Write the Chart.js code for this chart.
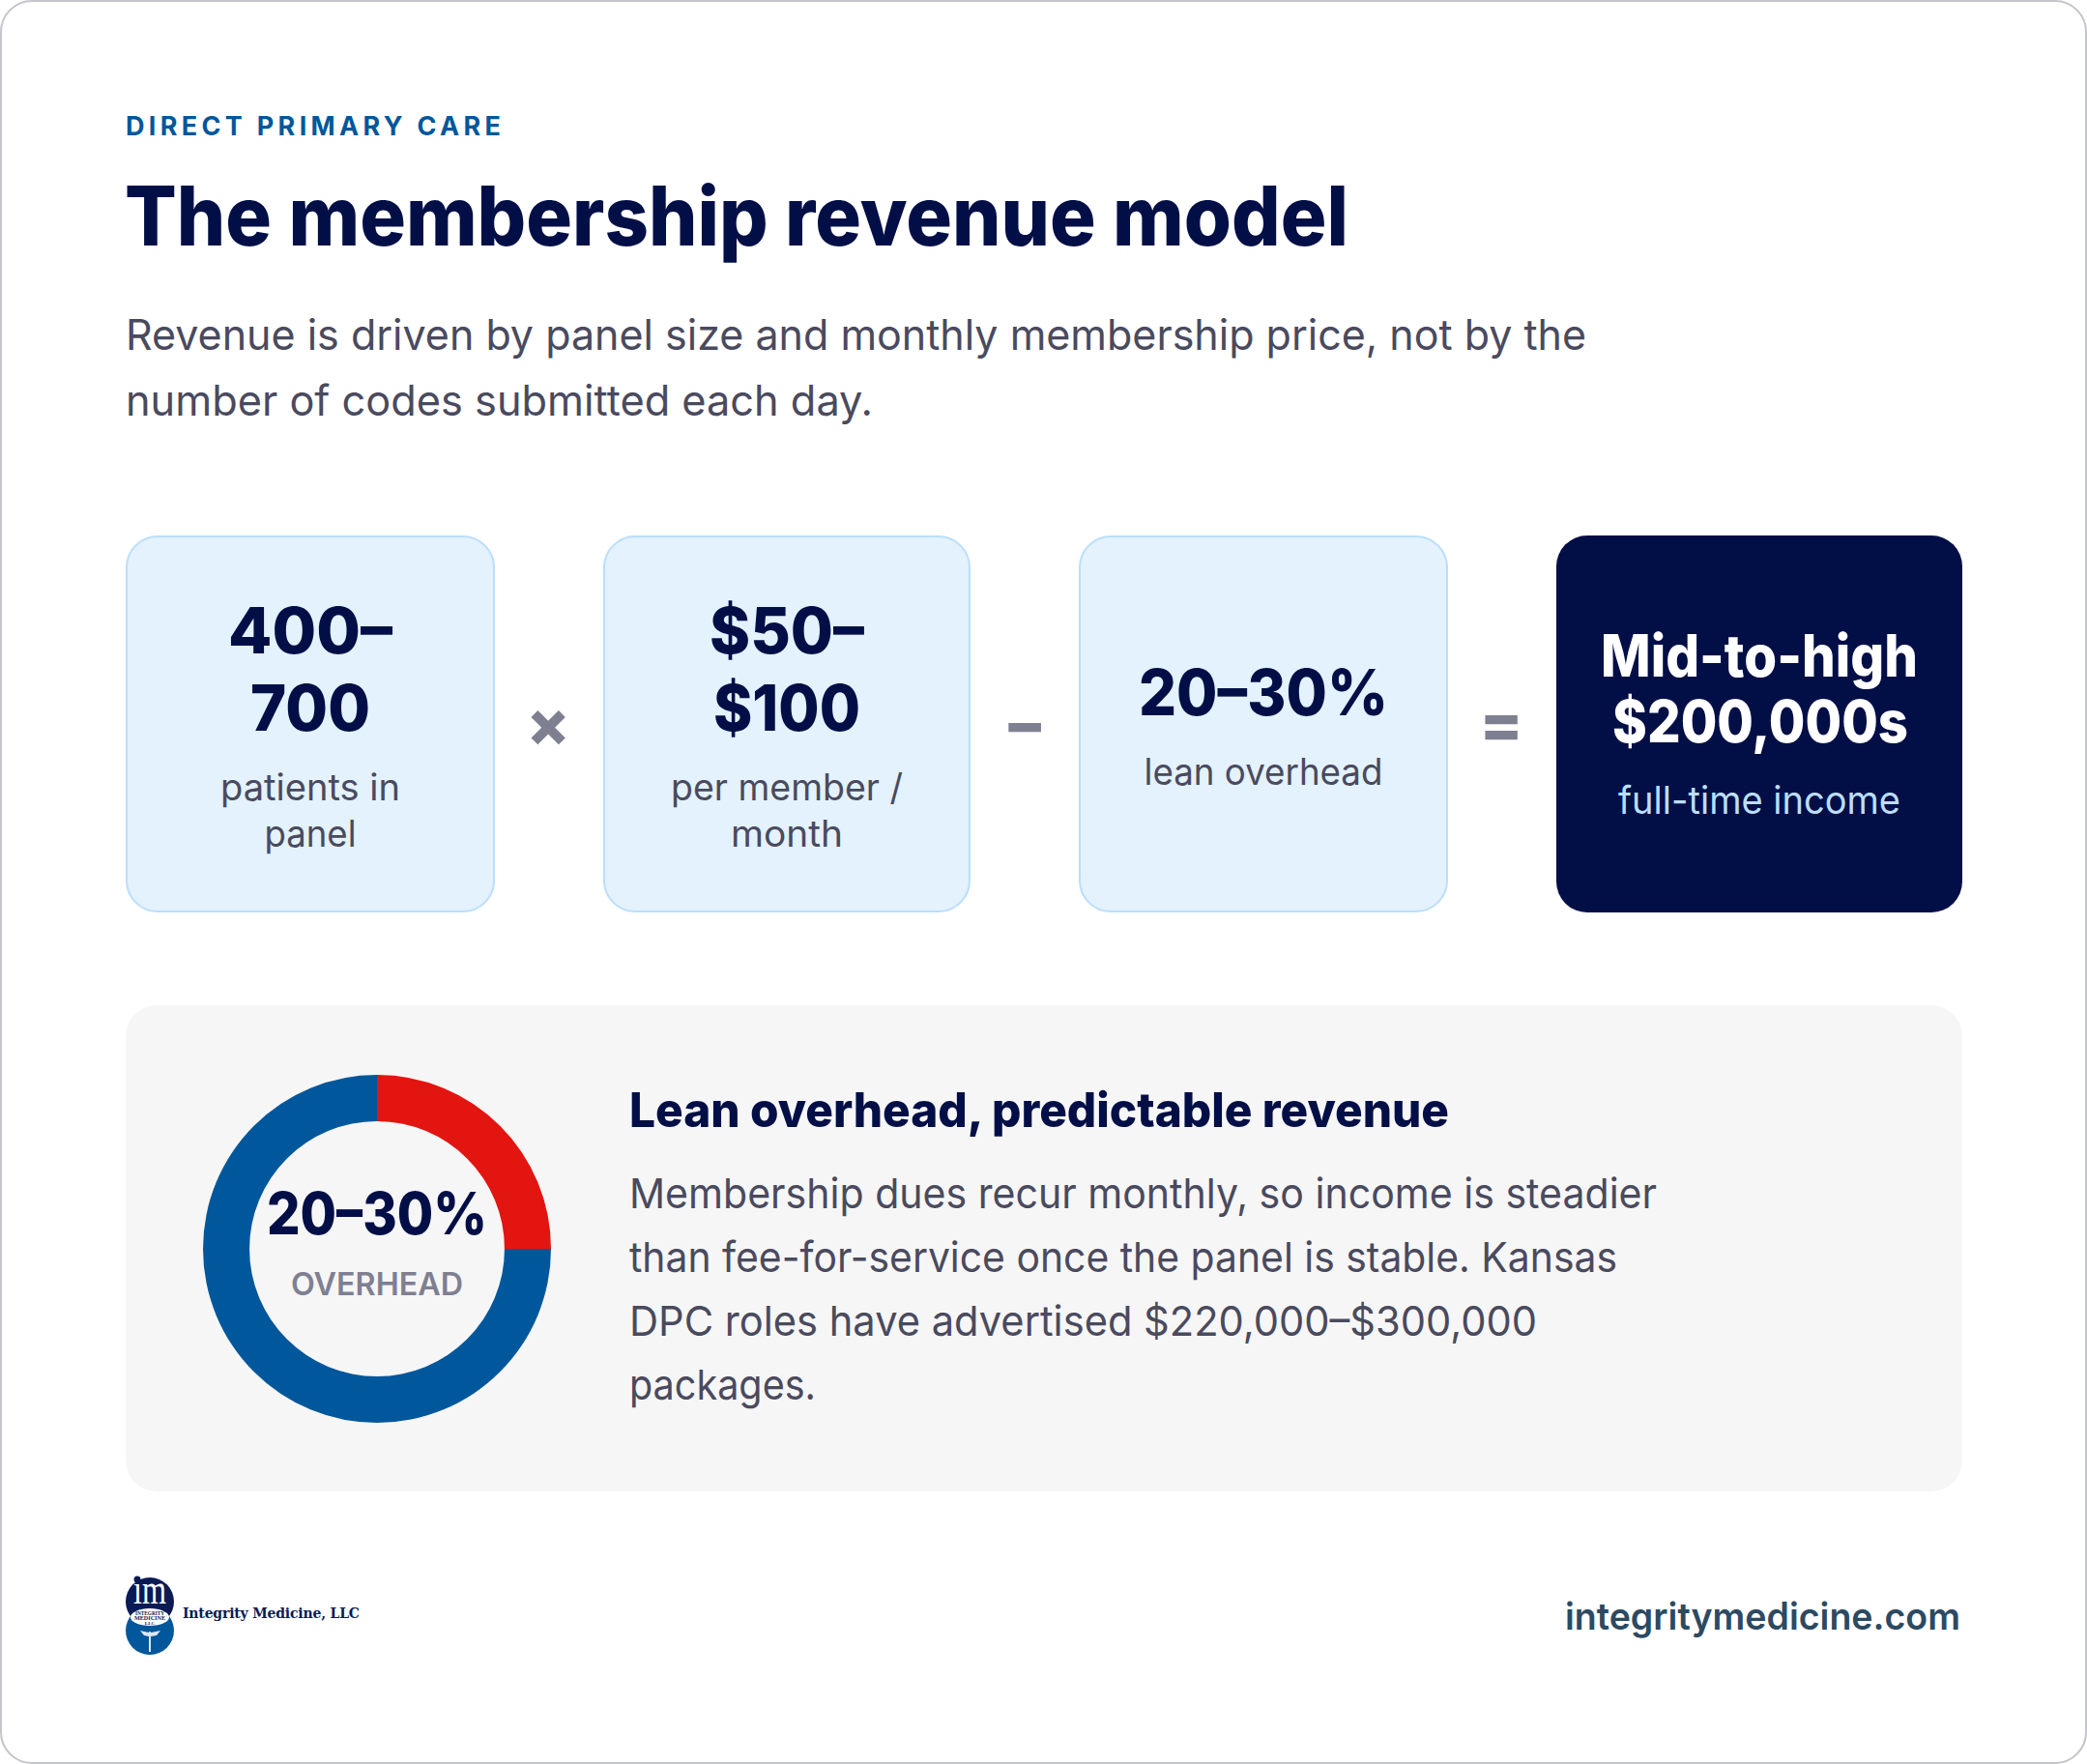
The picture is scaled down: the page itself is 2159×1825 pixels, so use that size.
<!DOCTYPE html>
<html>
<head>
<meta charset="utf-8">
<title>The membership revenue model</title>
<script src="https://cdn.jsdelivr.net/npm/chart.js@4"></script>
<style>
  html, body { margin: 0; padding: 0; background: #fff; overflow: hidden; }
  #page { position: relative; width: 2159px; height: 1825px; }
  #art { position: absolute; left: 0; top: 0; }
  #art text { font-family: Inter, sans-serif; }
  #art .logo text { font-family: "DejaVu Serif", serif; }
  #art .logo .mark { font-family: "Liberation Serif", serif; }
  #donut { position: absolute; left: 210px; top: 1112px; width: 360px; height: 360px; }
</style>
</head>
<body>
<div id="page">
  <svg id="art" width="2159" height="1825" xmlns="http://www.w3.org/2000/svg">
    <rect x="1" y="1" width="2157" height="1823" rx="32" fill="#fff" stroke="#c4c4cc" stroke-width="2"/>
    <rect x="131" y="555" width="380" height="388" rx="32" fill="#E3F2FD" stroke="#BBDEFB" stroke-width="2"/>
    <rect x="625" y="555" width="378" height="388" rx="32" fill="#E3F2FD" stroke="#BBDEFB" stroke-width="2"/>
    <rect x="1117" y="555" width="380" height="388" rx="32" fill="#E3F2FD" stroke="#BBDEFB" stroke-width="2"/>
    <rect x="1610" y="554" width="420" height="390" rx="32" fill="#020F47"/>
    <rect x="130" y="1040" width="1900" height="503" rx="32" fill="#F6F6F6"/>
    <g class="logo">
      <circle cx="155" cy="1687" r="25" fill="#01579B"/>
      <circle cx="155" cy="1657" r="25" fill="#0A1A55"/>
      <ellipse cx="155" cy="1673" rx="20" ry="9" fill="#fff"/>
      <text class="mark" x="155" y="1659" font-size="44" fill="#fff" text-anchor="middle" textLength="34" lengthAdjust="spacingAndGlyphs">im</text>
      <circle cx="142" cy="1634" r="3.5" fill="#0A1A55"/>
      <text class="mark" x="155" y="1671" font-size="7" font-weight="700" fill="#0A1A55" text-anchor="middle" textLength="30" lengthAdjust="spacingAndGlyphs">INTEGRITY</text>
      <text class="mark" x="155" y="1676" font-size="7" font-weight="700" fill="#0A1A55" text-anchor="middle" textLength="32" lengthAdjust="spacingAndGlyphs">MEDICINE</text>
      <text class="mark" x="155" y="1681" font-size="5" font-weight="700" fill="#0A1A55" text-anchor="middle">LLC</text>
      <path d="M145 1687 L154 1689 V1693 L149 1692 Z M166 1687 L156 1689 V1693 L162 1692 Z" fill="#dbe7f3"/>
      <path d="M155 1688 V1709" fill="none" stroke="#dbe7f3" stroke-width="2"/>
      <text x="189" y="1674" font-size="14" font-weight="700" fill="#0A1A55" textLength="183" lengthAdjust="spacing">Integrity Medicine, LLC</text>
    </g>
    <g id="labels"></g>
  </svg>
  <div id="donut"><canvas id="overheadChart"></canvas></div>
</div>
<script>
const sliceLabels = ['Overhead', 'Rest of revenue'];
const sliceValues = [25, 75];
const sliceColors = ['#E31511', '#01579B'];

const navy = '#020F47', slate = '#4A4A5E', grey = '#7F7F92', pale = '#BBDEFB';

// text, x, baseline, size, weight, colour, anchor, width
const labels = [
  ['The membership revenue model', 129, 254, 85, 800, navy, 'start', 1266],
  ['Revenue is driven by panel size and monthly membership price, not by the', 130, 362, 44, 400, slate, 'start', 1511],
  ['number of codes submitted each day.', 130, 430, 44, 400, slate, 'start', 773],

  ['400–', 321, 676, 66, 800, navy, 'middle', 170],
  ['700', 321, 756, 66, 800, navy, 'middle', 124],
  ['patients in', 321, 828, 38, 400, slate, 'middle', 186],
  ['panel', 321, 876, 38, 400, slate, 'middle', 95],
  ['×', 567, 772, 66, 800, grey, 'middle'],

  ['$50–', 814, 676, 66, 800, navy, 'middle', 160],
  ['$100', 814, 756, 66, 800, navy, 'middle', 152],
  ['per member /', 814, 828, 38, 400, slate, 'middle', 240],
  ['month', 814, 876, 38, 400, slate, 'middle', 116],
  ['−', 1060, 772, 66, 800, grey, 'middle'],

  ['20–30%', 1307, 740, 66, 800, navy, 'middle', 258],
  ['lean overhead', 1307, 812, 38, 400, slate, 'middle', 247],
  ['=', 1553, 772, 66, 800, grey, 'middle'],

  ['Mid-to-high', 1820, 700, 60, 800, '#fff', 'middle', 328],
  ['$200,000s', 1821, 768, 60, 800, '#fff', 'middle', 306],
  ['full-time income', 1820, 842, 39, 400, pale, 'middle', 292],

  ['20–30%', 390, 1277, 60, 800, navy, 'middle', 228],
  ['OVERHEAD', 390, 1340, 32, 600, grey, 'middle', 178],

  ['Lean overhead, predictable revenue', 651, 1166, 50, 800, navy, 'start', 848],
  ['Membership dues recur monthly, so income is steadier', 651, 1250, 43, 400, slate, 'start', 1063],
  ['than fee-for-service once the panel is stable. Kansas', 651, 1316, 43, 400, slate, 'start', 1022],
  ['DPC roles have advertised $220,000–$300,000', 651, 1382, 43, 400, slate, 'start', 939],
  ['packages.', 651, 1448, 43, 400, slate, 'start', 193],

  ['integritymedicine.com', 2028, 1686, 39, 600, '#2C4A62', 'end', 409],
];

const svgNs = 'http://www.w3.org/2000/svg';
const holder = document.getElementById('labels');

function addText(str, x, y, size, weight, color, anchor, width, adjust) {
  const el = document.createElementNS(svgNs, 'text');
  el.textContent = str;
  el.setAttribute('x', x);
  el.setAttribute('y', y);
  el.setAttribute('font-size', size);
  el.setAttribute('font-weight', weight);
  el.setAttribute('fill', color);
  el.setAttribute('text-anchor', anchor);
  if (width) {
    el.setAttribute('textLength', width);
    el.setAttribute('lengthAdjust', adjust);
  }
  holder.appendChild(el);
}

labels.forEach(l => addText(...l, 'spacingAndGlyphs'));
// the eyebrow is letterspaced, not stretched
addText('DIRECT PRIMARY CARE', 130, 140, 27, 700, '#01579B', 'start', 388, 'spacing');

new Chart(document.getElementById('overheadChart'), {
  type: 'doughnut',
  data: {
    labels: sliceLabels,
    datasets: [{
      data: sliceValues,
      backgroundColor: sliceColors,
      borderWidth: 0,
    }],
  },
  options: {
    responsive: true,
    maintainAspectRatio: false,
    animation: false,
    cutout: '73.3%',
    layout: { padding: 0 },
    plugins: {
      legend: { display: false },
      tooltip: { enabled: false },
    },
  },
});
</script>
</body>
</html>
